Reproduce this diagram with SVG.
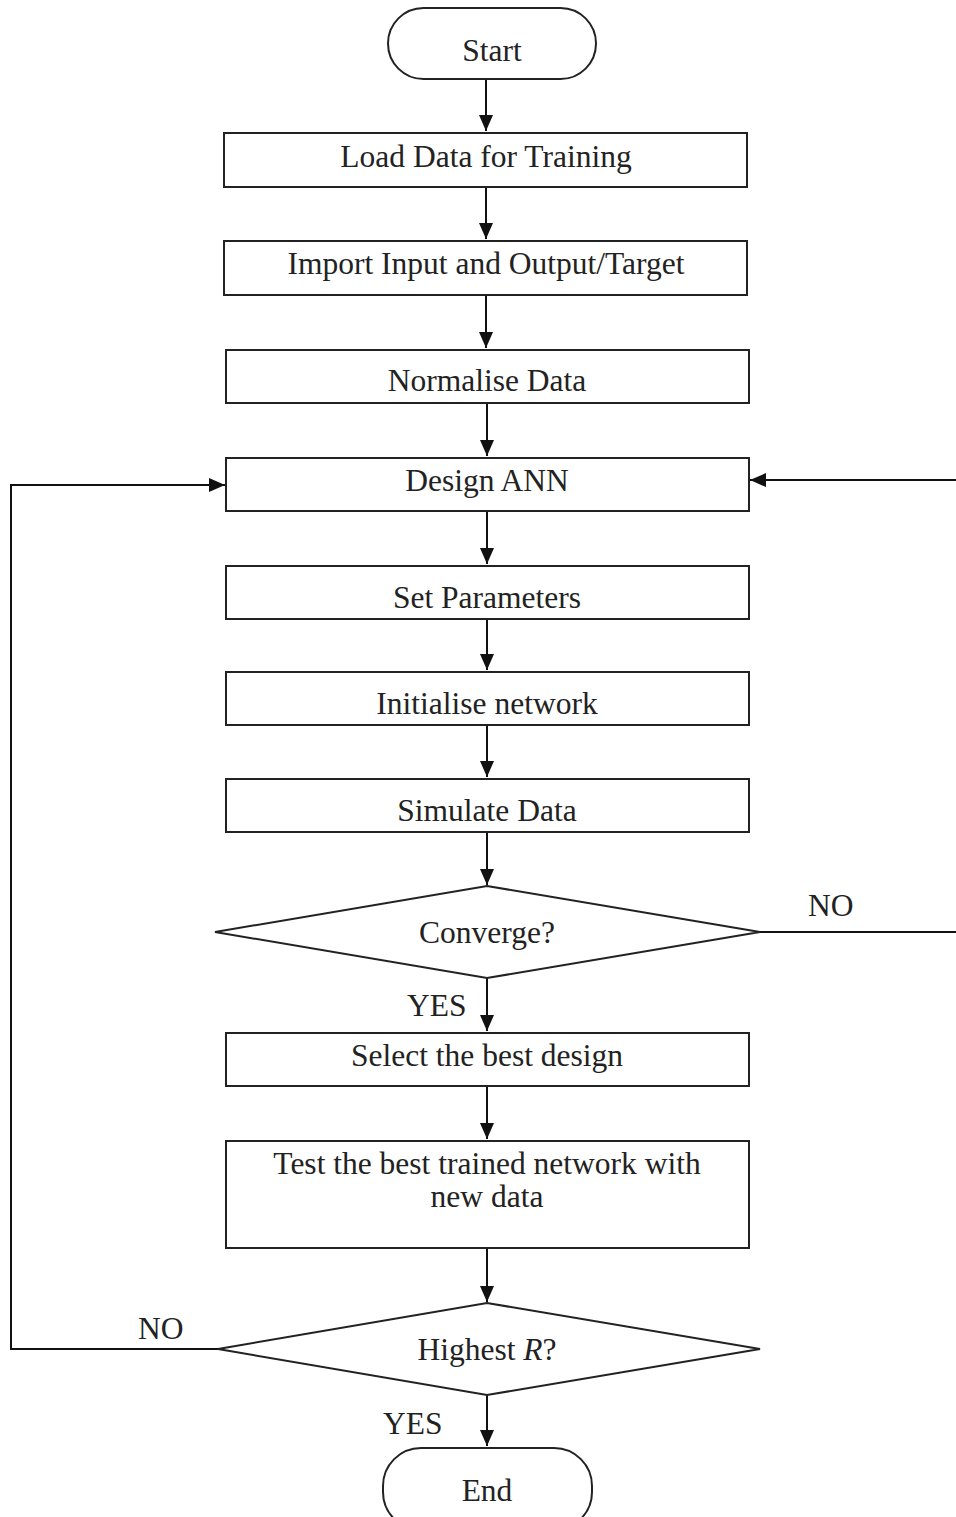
<svg xmlns="http://www.w3.org/2000/svg" width="956" height="1517" viewBox="0 0 956 1517">
<defs>
<style>
.n{fill:#fff;stroke:#222;stroke-width:2}
.t{font-family:"Liberation Serif","Times New Roman",serif;font-size:31.5px;fill:#222;text-anchor:middle}
.l{font-family:"Liberation Serif","Times New Roman",serif;font-size:31.5px;fill:#222}
.c{fill:none;stroke:#111;stroke-width:2}
</style>
<marker id="ah" markerWidth="16" markerHeight="14" refX="16" refY="7" orient="auto" markerUnits="userSpaceOnUse" viewBox="0 0 16 14"><path d="M0,0 L16,7 L0,14 z" fill="#111"/></marker>
</defs>
<rect width="956" height="1517" fill="#fff"/>
<g id="connectors">
<path class="c" d="M486,79 V131" marker-end="url(#ah)"/>
<path class="c" d="M486,187 V239" marker-end="url(#ah)"/>
<path class="c" d="M486,295 V348" marker-end="url(#ah)"/>
<path class="c" d="M487,403 V456" marker-end="url(#ah)"/>
<path class="c" d="M487,511 V564" marker-end="url(#ah)"/>
<path class="c" d="M487,619 V670" marker-end="url(#ah)"/>
<path class="c" d="M487,725 V777" marker-end="url(#ah)"/>
<path class="c" d="M487,832 V885" marker-end="url(#ah)"/>
<path class="c" d="M487,978 V1031" marker-end="url(#ah)"/>
<path class="c" d="M487,1086 V1139" marker-end="url(#ah)"/>
<path class="c" d="M487,1248 V1302" marker-end="url(#ah)"/>
<path class="c" d="M487,1395 V1446" marker-end="url(#ah)"/>
<path class="c" d="M760,932 H956"/>
<path class="c" d="M956,480 H750" marker-end="url(#ah)"/>
<path class="c" d="M218,1349 H11 V485 H225" marker-end="url(#ah)"/>
<text class="l" x="808" y="916">NO</text>
<text class="l" x="407" y="1016">YES</text>
<text class="l" x="138" y="1339">NO</text>
<text class="l" x="383" y="1434">YES</text>
</g>
<g id="start"><rect class="n" x="388" y="8" width="208" height="71" rx="35.5"/><text class="t" x="492" y="61">Start</text></g>
<g id="load"><rect class="n" x="224" y="133" width="523" height="54"/><text class="t" x="486" y="167">Load Data for Training</text></g>
<g id="import"><rect class="n" x="224" y="241" width="523" height="54"/><text class="t" x="486" y="274">Import Input and Output/Target</text></g>
<g id="normalise"><rect class="n" x="226" y="350" width="523" height="53"/><text class="t" x="487" y="391">Normalise Data</text></g>
<g id="design"><rect class="n" x="226" y="458" width="523" height="53"/><text class="t" x="487" y="491">Design ANN</text></g>
<g id="params"><rect class="n" x="226" y="566" width="523" height="53"/><text class="t" x="487" y="608">Set Parameters</text></g>
<g id="init"><rect class="n" x="226" y="672" width="523" height="53"/><text class="t" x="487" y="714">Initialise network</text></g>
<g id="simulate"><rect class="n" x="226" y="779" width="523" height="53"/><text class="t" x="487" y="821">Simulate Data</text></g>
<g id="converge"><polygon class="n" points="487,886 760,932 487,978 215,932"/><text class="t" x="487" y="943">Converge?</text></g>
<g id="select"><rect class="n" x="226" y="1033" width="523" height="53"/><text class="t" x="487" y="1066">Select the best design</text></g>
<g id="test"><rect class="n" x="226" y="1141" width="523" height="107"/><text class="t" x="487" y="1174">Test the best trained network with</text><text class="t" x="487" y="1207">new data</text></g>
<g id="highest"><polygon class="n" points="487,1303 760,1349 487,1395 218,1349"/><text class="t" x="487" y="1360">Highest <tspan font-style="italic">R</tspan>?</text></g>
<g id="end"><rect class="n" x="383" y="1448" width="209" height="82" rx="38"/><text class="t" x="487" y="1501">End</text></g>
</svg>
